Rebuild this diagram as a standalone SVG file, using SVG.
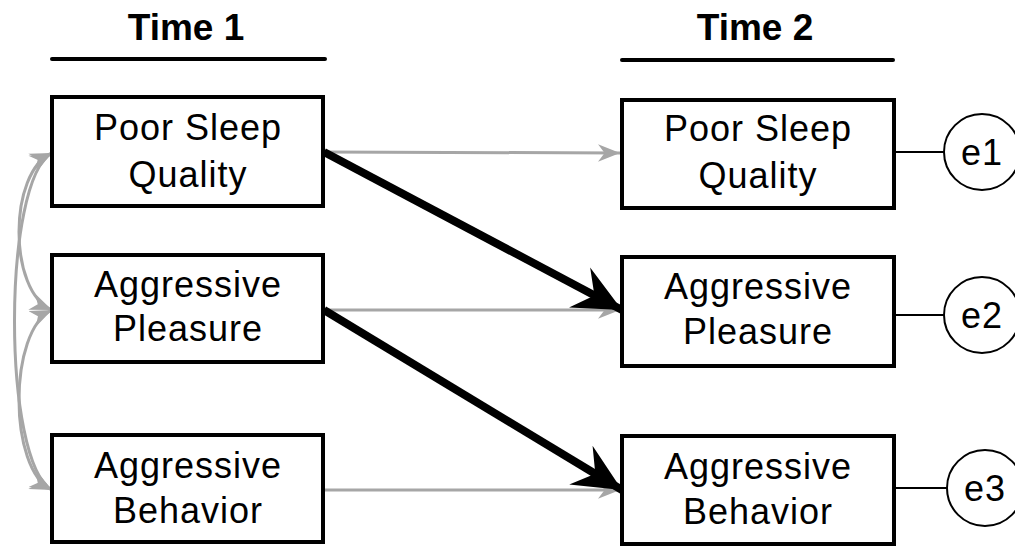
<svg xmlns="http://www.w3.org/2000/svg" width="1015" height="550" viewBox="0 0 1015 550">
<style>
.box{fill:#fff;stroke:#000;stroke-width:4}
.t{font-family:"Liberation Sans",Arial,sans-serif;font-size:36px;letter-spacing:1px;fill:#000;text-anchor:middle}
.h{font-family:"Liberation Sans",Arial,sans-serif;font-size:37px;font-weight:bold;fill:#000;text-anchor:middle}
.g{fill:none;stroke:#a6a6a6;stroke-width:3}
.k{fill:none;stroke:#000;stroke-width:8}
.e{fill:#fff;stroke:#000;stroke-width:2}
</style>
<defs>
<marker id="ga2" viewBox="0 0 10 10" refX="10" refY="5" markerWidth="22" markerHeight="22" orient="auto-start-reverse" markerUnits="userSpaceOnUse"><path d="M0,1 L10,5 L0,9 L3,5 Z" fill="#a6a6a6"/></marker>
<marker id="ka" viewBox="0 0 10 10" refX="10" refY="5" markerWidth="48" markerHeight="48" orient="auto" markerUnits="userSpaceOnUse"><path d="M0,0.3 L10,5 L0,9.7 L3.5,5 Z" fill="#000"/></marker>
</defs>
<g id="headers">
<text class="h" x="186" y="40">Time 1</text>
<line x1="52" y1="59" x2="325" y2="59" stroke="#000" stroke-width="4" stroke-linecap="round"/>
<text class="h" x="755" y="40">Time 2</text>
<line x1="622" y1="60" x2="893" y2="60" stroke="#000" stroke-width="4" stroke-linecap="round"/>
</g>
<g id="connectors">
<path class="g" d="M324,152 L620,153" marker-end="url(#ga2)"/>
<path class="g" d="M324,310 L620,310" marker-end="url(#ga2)"/>
<path class="g" d="M324,490 L620,490" marker-end="url(#ga2)"/>
<path class="g" d="M52,153 C8,172 8,292 52,310" marker-start="url(#ga2)" marker-end="url(#ga2)"/>
<path class="g" d="M52,310 C8,330 8,470 52,490" marker-start="url(#ga2)" marker-end="url(#ga2)"/>
<path class="g" d="M52,153 C2,180 2,462 52,490" marker-start="url(#ga2)" marker-end="url(#ga2)"/>
<path class="k" d="M324,152 L622,310" marker-end="url(#ka)"/>
<path class="k" d="M324,310 L622,490" marker-end="url(#ka)"/>
<line x1="894" y1="152" x2="944" y2="152" stroke="#000" stroke-width="2"/>
<line x1="894" y1="315" x2="945" y2="315" stroke="#000" stroke-width="2"/>
<line x1="894" y1="488" x2="947" y2="488" stroke="#000" stroke-width="2"/>
</g>
<g id="n1"><rect class="box" x="52" y="97" width="271" height="109"/><text class="t" x="188" y="140">Poor Sleep</text><text class="t" x="188" y="187">Quality</text></g>
<g id="n2"><rect class="box" x="52" y="255" width="271" height="107"/><text class="t" x="188" y="297">Aggressive</text><text class="t" x="188" y="341">Pleasure</text></g>
<g id="n3"><rect class="box" x="52" y="435" width="271" height="107"/><text class="t" x="188" y="478">Aggressive</text><text class="t" x="188" y="523">Behavior</text></g>
<g id="n4"><rect class="box" x="622" y="100" width="272" height="108"/><text class="t" x="758" y="141">Poor Sleep</text><text class="t" x="758" y="188">Quality</text></g>
<g id="n5"><rect class="box" x="622" y="257" width="272" height="109"/><text class="t" x="758" y="299">Aggressive</text><text class="t" x="758" y="344">Pleasure</text></g>
<g id="n6"><rect class="box" x="622" y="436" width="272" height="108"/><text class="t" x="758" y="479">Aggressive</text><text class="t" x="758" y="524">Behavior</text></g>
<g id="e1"><circle class="e" cx="982" cy="152" r="38"/><text class="t" x="982" y="165">e1</text></g>
<g id="e2"><circle class="e" cx="982" cy="315" r="38"/><text class="t" x="982" y="328">e2</text></g>
<g id="e3"><circle class="e" cx="985" cy="488" r="38"/><text class="t" x="985" y="501">e3</text></g>
</svg>
